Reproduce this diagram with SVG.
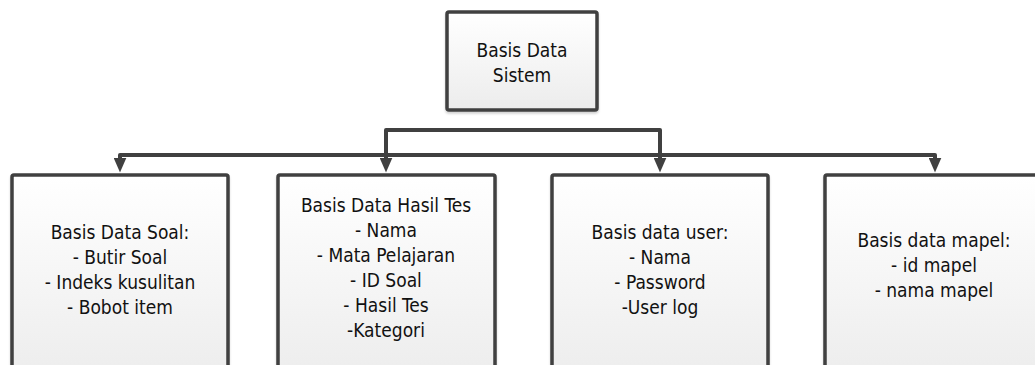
<svg xmlns="http://www.w3.org/2000/svg" width="1035" height="365" viewBox="0 0 1035 365">
  <defs>
    <linearGradient id="boxFill" x1="0" y1="0" x2="0" y2="1">
      <stop offset="0" stop-color="#ffffff"/>
      <stop offset="1" stop-color="#ececec"/>
    </linearGradient>
    <filter id="softShadow" x="-5%" y="-5%" width="110%" height="120%">
      <feDropShadow dx="0" dy="2" stdDeviation="1" flood-color="#000" flood-opacity="0.18"/>
    </filter>
    <!-- filled triangular head, drawn along +x; it starts where the line ends -->
    <marker id="arrowDown" viewBox="0 0 15 13" refX="0.5" refY="6.5" markerWidth="15" markerHeight="13" markerUnits="userSpaceOnUse" orient="auto">
      <path d="M0 0 L15 6.5 L0 13 Z" fill="#404040"/>
    </marker>
  </defs>
  <style>
    .box { fill: url(#boxFill); stroke: #404040; stroke-width: 3.5; filter: url(#softShadow); }
    .label { font-family: "DejaVu Sans Condensed", "DejaVu Sans", sans-serif; font-stretch: condensed; font-size: 19px; fill: #111111; text-anchor: middle; }
    .link { fill: none; stroke: #404040; stroke-width: 4; stroke-linejoin: round; filter: url(#softShadow); }
    .drop { fill: none; stroke: #404040; stroke-width: 4; stroke-linejoin: round; marker-end: url(#arrowDown); }
  </style>

  <!-- connectors -->
  <g id="connectors">
    <path class="link" d="M522 111 V155"/>
    <path class="drop" d="M522 130 H386 V158"/>
    <path class="drop" d="M522 130 H660 V158"/>
    <path class="drop" d="M522 155 H120 V158"/>
    <path class="drop" d="M522 155 H935 V158"/>
  </g>

  <!-- root node -->
  <g id="node-sistem">
    <rect class="box" x="447" y="12" width="150" height="98" rx="2"/>
    <text class="label" x="522" y="57">Basis Data</text>
    <text class="label" x="522" y="82">Sistem</text>
  </g>

  <!-- child nodes -->
  <g id="node-soal">
    <rect class="box" x="12" y="175" width="216" height="210" rx="2"/>
    <text class="label" x="120" y="239">Basis Data Soal:</text>
    <text class="label" x="120" y="264">- Butir Soal</text>
    <text class="label" x="120" y="289">- Indeks kusulitan</text>
    <text class="label" x="120" y="314">- Bobot item</text>
  </g>

  <g id="node-hasil-tes">
    <rect class="box" x="278" y="175" width="217" height="210" rx="2"/>
    <text class="label" x="386" y="212">Basis Data Hasil Tes</text>
    <text class="label" x="386" y="237">- Nama</text>
    <text class="label" x="386" y="262">- Mata Pelajaran</text>
    <text class="label" x="386" y="287">- ID Soal</text>
    <text class="label" x="386" y="312">- Hasil Tes</text>
    <text class="label" x="386" y="337">-Kategori</text>
  </g>

  <g id="node-user">
    <rect class="box" x="552" y="175" width="216" height="210" rx="2"/>
    <text class="label" x="660" y="239">Basis data user:</text>
    <text class="label" x="660" y="264">- Nama</text>
    <text class="label" x="660" y="289">- Password</text>
    <text class="label" x="660" y="314">-User log</text>
  </g>

  <g id="node-mapel">
    <rect class="box" x="825" y="175" width="220" height="210" rx="2"/>
    <text class="label" x="934" y="247">Basis data mapel:</text>
    <text class="label" x="934" y="272">- id mapel</text>
    <text class="label" x="934" y="297">- nama mapel</text>
  </g>
</svg>
